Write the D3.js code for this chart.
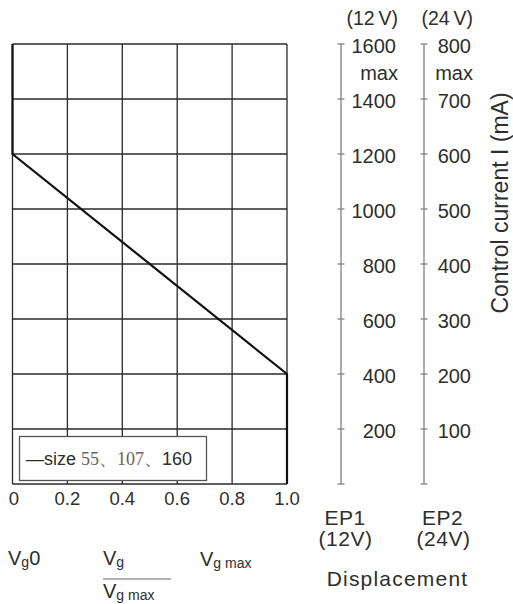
<!DOCTYPE html>
<html><head><meta charset="utf-8">
<script src="https://cdn.jsdelivr.net/npm/d3@7"></script>
<style>
html,body{margin:0;padding:0;background:#fff;}
svg{display:block;font-family:"Liberation Sans",Arial,sans-serif;}
</style></head>
<body><div id="chart"></div>
<script>
// ---- data ----
const xTicks = [0, 0.2, 0.4, 0.6, 0.8, 1.0];
const xTickLabels = ["0", "0.2", "0.4", "0.6", "0.8", "1.0"];
const gridCurrent = [0, 200, 400, 600, 800, 1000, 1200, 1400, 1600];
// characteristic curve (ratio Vg/Vg max vs current EP1, mA)
const curveRatio = [0, 0, 1.0, 1.0];
const curveCurrent = [1600, 1200, 400, 0];
const ep1Ticks = [200, 400, 600, 800, 1000, 1200, 1400, 1600];
const ep2Ticks = [100, 200, 300, 400, 500, 600, 700, 800];
const legendText = ["\u2014size ", "55\u3001107\u3001", "160"];

const W = 513, H = 604;
const svg = d3.select("#chart").append("svg").attr("width", W).attr("height", H);

const x = d3.scaleLinear().domain([0, 1]).range([12.5, 287]);
const y1 = d3.scaleLinear().domain([0, 1600]).range([484, 44]);
const y2 = d3.scaleLinear().domain([0, 800]).range([484, 44]);

const ink = "#2a2a2a";
const txt = "#2e2e2e";

// grid
const g = svg.append("g");
g.selectAll("line.v").data(xTicks).join("line")
  .attr("x1", d => x(d)).attr("x2", d => x(d))
  .attr("y1", y1(1600)).attr("y2", y1(0))
  .attr("stroke", ink).attr("stroke-width", 1.3);
g.selectAll("line.h").data(gridCurrent).join("line")
  .attr("x1", x(0)).attr("x2", x(1))
  .attr("y1", d => y1(d)).attr("y2", d => y1(d))
  .attr("stroke", ink).attr("stroke-width", 1.3);

// curve
const pts = curveRatio.map((r, i) => [r, curveCurrent[i]]);
svg.append("path").datum(pts)
  .attr("d", d3.line().x(d => x(d[0])).y(d => y1(d[1])))
  .attr("fill", "none").attr("stroke", "#111").attr("stroke-width", 2.2);

// legend
svg.append("rect").attr("x", 19.5).attr("y", 436.5).attr("width", 187).attr("height", 44)
  .attr("fill", "#fff").attr("stroke", "#555").attr("stroke-width", 1.3);
const lt = svg.append("text").attr("x", 26).attr("y", 465).attr("font-size", 18).attr("fill", txt);
lt.append("tspan").text(legendText[0]);
lt.append("tspan").attr("font-family", "'Liberation Serif','DejaVu Serif',serif").attr("fill", "#6a625c").text(legendText[1]);
lt.append("tspan").text(legendText[2]);

// x tick labels
svg.selectAll("text.xt").data(xTicks).join("text")
  .attr("x", d => x(d) + (d === 0 ? 1.5 : 0)).attr("y", 505)
  .attr("text-anchor", "middle").attr("font-size", 18.5).attr("fill", txt)
  .text((d, i) => xTickLabels[i]);

// right axes
function rightAxis(xpos, scale, ticks, labelX, top) {
  const a = svg.append("g");
  a.append("line").attr("x1", xpos).attr("x2", xpos)
    .attr("y1", scale.range()[1]).attr("y2", scale.range()[0])
    .attr("stroke", "#808080").attr("stroke-width", 1.3);
  a.selectAll("line.t").data([0].concat(ticks)).join("line")
    .attr("x1", xpos - 3.5).attr("x2", xpos + 3.5)
    .attr("y1", d => scale(d)).attr("y2", d => scale(d))
    .attr("stroke", "#808080").attr("stroke-width", 1.3);
  a.selectAll("text").data(ticks).join("text")
    .attr("x", labelX).attr("y", d => scale(d) + 9)
    .attr("text-anchor", "end").attr("font-size", 20).attr("fill", txt)
    .text(d => d);
  a.append("text").attr("x", labelX + 2).attr("y", 80).attr("text-anchor", "end")
    .attr("font-size", 20).attr("fill", txt).text("max");
  a.append("text").attr("x", labelX + 2).attr("y", 25).attr("text-anchor", "end")
    .attr("font-size", 19.5).attr("fill", txt).text(top);
}
rightAxis(341, y1, ep1Ticks, 396, "(12\u2009V)");
rightAxis(424, y2, ep2Ticks, 471, "(24\u2009V)");

// axis title
svg.append("text").attr("transform", "translate(508,203) rotate(-90)")
  .attr("text-anchor", "middle").attr("font-size", 23).attr("fill", txt)
  .text("Control current I (mA)");

// bottom labels
function bl(xp, yp, t, fs, ls) {
  svg.append("text").attr("x", xp).attr("y", yp).attr("text-anchor", "middle")
    .attr("font-size", fs).attr("letter-spacing", ls).attr("fill", txt).text(t);
}
bl(345, 525, "EP1", 21, 0.5); bl(345.5, 546, "(12V)", 21, 0.5);
bl(442.5, 525, "EP2", 21, 0.5); bl(443.5, 546, "(24V)", 21, 0.5);
bl(397.5, 586, "Displacement", 21, 1.2);

// V labels
function vlabel(xp, yp, sub, tail) {
  const t = svg.append("text").attr("x", xp).attr("y", yp).attr("font-size", 20).attr("fill", txt);
  t.append("tspan").text("V");
  t.append("tspan").attr("font-size", 14).attr("dy", 2).text(sub);
  if (tail) t.append("tspan").attr("font-size", 20).attr("dy", -2).text(tail);
}
vlabel(8, 565, "g", "0");
vlabel(103, 565, "g");
svg.append("line").attr("x1", 103).attr("x2", 171).attr("y1", 579).attr("y2", 579)
  .attr("stroke", "#666").attr("stroke-width", 1.2);
vlabel(103, 598, "g max");
vlabel(200, 566, "g max");
</script></body></html>
